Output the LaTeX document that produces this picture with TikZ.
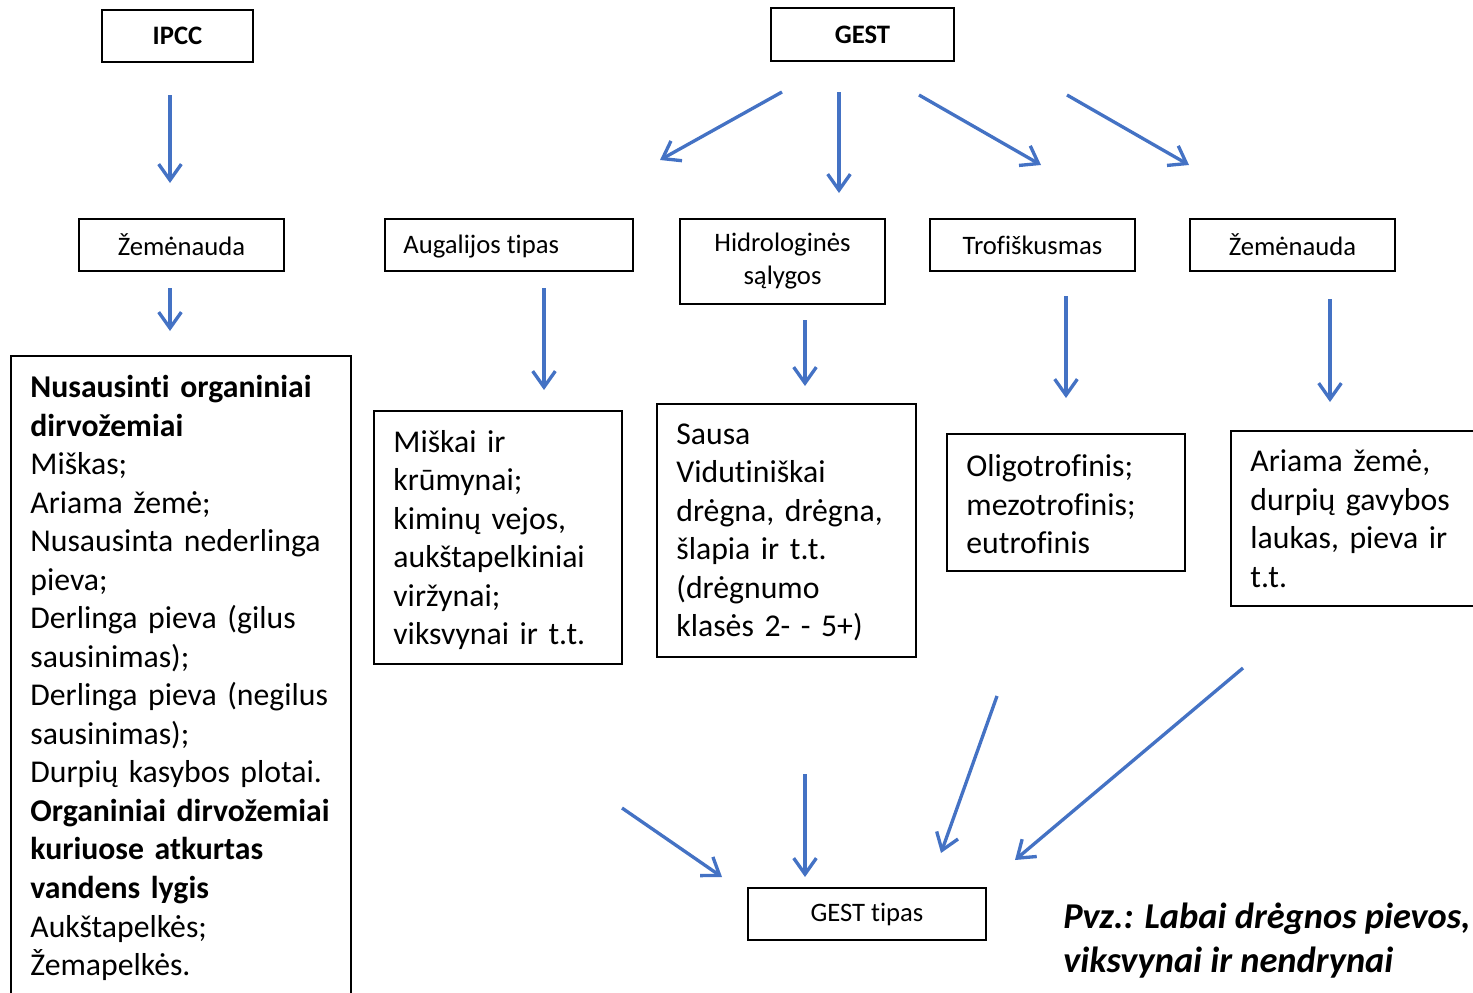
\documentclass[tikz,border=0pt]{standalone}
\usepackage{fontspec}
\setmainfont{Carlito}[Ligatures=NoCommon]
\usetikzlibrary{arrows.meta}
\definecolor{arrblue}{HTML}{4472C4}
\begin{document}
\begin{tikzpicture}[x=0.75pt,y=-0.75pt,
  box/.style={draw=black, line width=1.3pt, inner sep=0pt, font=\fontsize{20}{24.75}\selectfont},
  boldbox/.style={box, font=\fontsize{20}{24.75}\selectfont\bfseries},
  bigtxt/.style={anchor=west, inner sep=0pt, align=left, text width=260pt, font=\fontsize{23.8}{28.9}\selectfont},
  pvztxt/.style={anchor=west, inner sep=0pt, align=left, font=\fontsize{27.3}{33}\selectfont\bfseries\itshape},
  arr/.style={draw=arrblue, line width=2.5pt, line join=miter, -{Straight Barb[length=12pt,width=17pt]}}]
\useasboundingbox (0,0) rectangle (1473,992);
\clip (0,0) rectangle (1473,992);

% top boxes
\node[boldbox, minimum width=113.25pt, minimum height=39pt] (ipcc) at (177.5,36) {IPCC};
\node[boldbox, minimum width=137.25pt, minimum height=39.75pt] (gest) at (862.5,34.5) {GEST};

% second row
\node[box, minimum width=153.75pt, minimum height=39pt] (zem1) at (181.5,245) {Žemėnauda};
\node[box, minimum width=186pt, minimum height=39pt] (aug) at (509,245) {};
\node[anchor=west, inner sep=0pt, font=\fontsize{20}{24.75}\selectfont] (augT) at ([xshift=14.25pt,yshift=-1.5pt]aug.west) {Augalijos tipas};
\node[box, minimum width=153.75pt, minimum height=63.75pt, align=center] (hidro) at (782.5,261.5) {Hidrologinės\\sąlygos};
\node[box, minimum width=153.75pt, minimum height=39pt] (trof) at (1032.5,245) {Trofiškusmas};
\node[box, minimum width=153.75pt, minimum height=39pt] (zem2) at (1292.5,245) {Žemėnauda};

% big boxes
\node[box, minimum width=255pt, minimum height=483pt] (left) at (181,678) {};
\node[bigtxt] (leftT) at ([xshift=15pt,yshift=0pt]left.west) {\textbf{Nusausinti organiniai}\\\textbf{dirvožemiai}\\Miškas;\\Ariama žemė;\\Nusausinta nederlinga\\pieva;\\Derlinga pieva (gilus\\sausinimas);\\Derlinga pieva (negilus\\sausinimas);\\Durpių kasybos plotai.\\\textbf{Organiniai dirvožemiai}\\\textbf{kuriuose atkurtas}\\\textbf{vandens lygis}\\Aukštapelkės;\\Žemapelkės.};

\node[box, minimum width=186pt, minimum height=189.75pt] (mis) at (498,537.5) {};
\node[bigtxt] (misT) at ([xshift=15pt,yshift=-2pt]mis.west) {Miškai ir\\krūmynai;\\kiminų vejos,\\aukštapelkiniai\\viržynai;\\viksvynai ir t.t.};

\node[box, minimum width=194.25pt, minimum height=189.75pt] (sau) at (786.5,530.5) {};
\node[bigtxt] (sauT) at ([xshift=15pt,yshift=-1.5pt]sau.west) {Sausa\\Vidutiniškai\\drėgna, drėgna,\\šlapia ir t.t.\\(drėgnumo\\klasės 2- - 5+)};

\node[box, minimum width=178.5pt, minimum height=102.75pt] (oli) at (1066,502.5) {};
\node[bigtxt] (oliT) at ([xshift=15pt,yshift=-1.5pt]oli.west) {Oligotrofinis;\\mezotrofinis;\\eutrofinis};

\node[box, minimum width=194.25pt, minimum height=131.25pt] (ari) at (1360.5,518.5) {};
\node[bigtxt] (ariT) at ([xshift=15pt]ari.west) {Ariama žemė,\\durpių gavybos\\laukas, pieva ir\\t.t.};

% bottom
\node[box, minimum width=178.5pt, minimum height=39pt] (tip) at (867,914) {GEST tipas};
\node[pvztxt] (pvz) at (1063,941) {Pvz.: Labai drėgnos pievos,\\viksvynai ir nendrynai};

% arrow end points
\coordinate (a1s) at (170,95);   \coordinate (a1e) at (170,183);
\coordinate (a2s) at (170,288);  \coordinate (a2e) at (170,331);
\coordinate (a3s) at (782,92);   \coordinate (a3e) at (660,160);
\coordinate (a4s) at (839,92);   \coordinate (a4e) at (839,193);
\coordinate (a5s) at (919,95);   \coordinate (a5e) at (1041,165);
\coordinate (a6s) at (1067,95);  \coordinate (a6e) at (1189,165);
\coordinate (a7s) at (544,288);  \coordinate (a7e) at (544,390);
\coordinate (a8s) at (805,320);  \coordinate (a8e) at (805,386);
\coordinate (a9s) at (1066,296); \coordinate (a9e) at (1066,398);
\coordinate (a10s) at (1330,299); \coordinate (a10e) at (1330,402);
\coordinate (a11s) at (622,808); \coordinate (a11e) at (722,877);
\coordinate (a12s) at (805,774); \coordinate (a12e) at (805,877);
\coordinate (a13s) at (997,696); \coordinate (a13e) at (941,853);
\coordinate (a14s) at (1243,668); \coordinate (a14e) at (1015,860);

\foreach \i in {1,...,14} {\draw[arr] (a\i s) -- (a\i e);}
\end{tikzpicture}
\end{document}
